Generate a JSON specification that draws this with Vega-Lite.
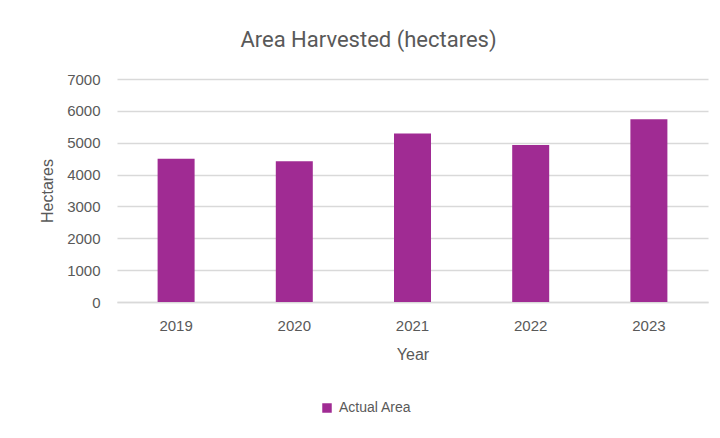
{
  "$schema": "https://vega.github.io/schema/vega-lite/v6.json",
  "autosize": {"type": "none"},
  "width": 591,
  "height": 223,
  "padding": {"left": 117, "top": 79, "right": 12, "bottom": 136},
  "background": "white",
  "title": {
    "text": "Area Harvested (hectares)",
    "font": "Roboto",
    "fontSize": 22,
    "fontWeight": "normal",
    "color": "#595959",
    "anchor": "middle",
    "dx": -44,
    "offset": 20
  },
  "data": {
    "values": [
      {"Year": "2019", "Hectares": 4500, "Series": "Actual Area"},
      {"Year": "2020", "Hectares": 4420, "Series": "Actual Area"},
      {"Year": "2021", "Hectares": 5290, "Series": "Actual Area"},
      {"Year": "2022", "Hectares": 4930, "Series": "Actual Area"},
      {"Year": "2023", "Hectares": 5740, "Series": "Actual Area"}
    ]
  },
  "mark": {"type": "bar"},
  "encoding": {
    "x": {
      "field": "Year",
      "type": "nominal",
      "scale": {"paddingInner": 0.687, "paddingOuter": 0.3435},
      "axis": {
        "title": "Year",
        "labelAngle": 0,
        "labelFont": "Liberation Sans",
        "labelFontSize": 15,
        "labelColor": "#595959",
        "labelPadding": 16,
        "titleFont": "Liberation Sans",
        "titleFontSize": 16,
        "titleFontWeight": "normal",
        "titleColor": "#595959",
        "titlePadding": 13,
        "ticks": false,
        "domainColor": "#D9D9D9",
        "domainWidth": 1.5
      }
    },
    "y": {
      "field": "Hectares",
      "type": "quantitative",
      "scale": {"domain": [0, 7000]},
      "axis": {
        "title": "Hectares",
        "values": [0, 1000, 2000, 3000, 4000, 5000, 6000, 7000],
        "format": "d",
        "labelFont": "Liberation Sans",
        "labelFontSize": 15,
        "labelColor": "#595959",
        "labelPadding": 17,
        "titleFont": "Liberation Sans",
        "titleFontSize": 16,
        "titleFontWeight": "normal",
        "titleColor": "#595959",
        "titlePadding": 11,
        "ticks": false,
        "domain": false,
        "gridColor": "#D9D9D9",
        "gridWidth": 1.5
      }
    },
    "color": {
      "field": "Series",
      "type": "nominal",
      "scale": {"range": ["#A02B93"]},
      "legend": {
        "title": null,
        "orient": "none",
        "legendX": 203,
        "legendY": 322,
        "direction": "horizontal",
        "symbolType": "square",
        "symbolSize": 90,
        "labelFont": "Liberation Sans",
        "labelFontSize": 14,
        "labelColor": "#595959",
        "labelOffset": 5
      }
    }
  },
  "config": {"view": {"stroke": null}}
}
